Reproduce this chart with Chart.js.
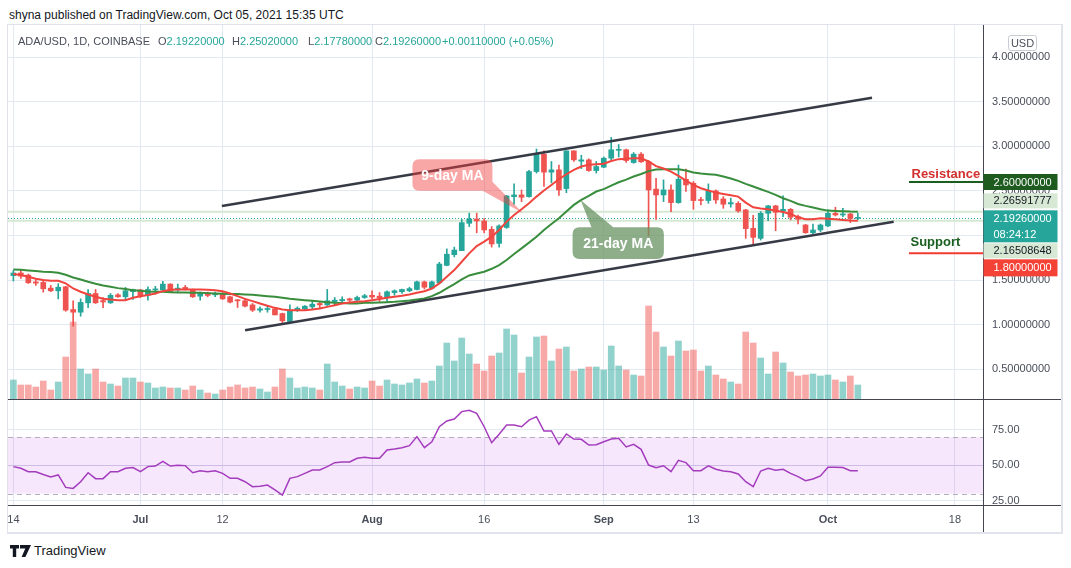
<!DOCTYPE html>
<html>
<head>
<meta charset="utf-8">
<script src="https://cdn.jsdelivr.net/npm/chart.js@4.4.0/dist/chart.umd.min.js"></script>
<style>
  body { margin: 0; width: 1071px; height: 568px; overflow: hidden; background: #fff; position: relative;
         font-family: "Liberation Sans", Arial, sans-serif; color: #131722; }
  #title { position: absolute; left: 9px; top: 8px; font-size: 12px; line-height: 14px; color: #131722; white-space: nowrap; }
  #frame { position: absolute; left: 7px; top: 24px; width: 1053px; height: 507px; border: 1px solid #e0e3eb; border-right-width: 2px; border-bottom-width: 2px; }
  canvas { position: absolute; left: 8px; }
  #price { top: 25px; }
  #rsi { top: 400px; }
  .lg { position: absolute; top: 35px; font-size: 11px; line-height: 13px; color: #4a4e5a; white-space: nowrap; }
  .lg b { font-weight: normal; color: #26a69a; }
  #usd { position: absolute; left: 1008px; top: 35px; width: 27px; height: 14px; border: 1px solid #c9cdd6; border-radius: 3px;
         font-size: 11px; line-height: 14px; text-align: center; color: #4a4e5a; background: #fff; }
  #logo { position: absolute; left: 10px; top: 543px; display: flex; align-items: center; gap: 3px; font-size: 13px; color: #131722; }
</style>
</head>
<body>
<div id="title">shyna published on TradingView.com, Oct 05, 2021 15:35 UTC</div>
<div id="frame"></div>
<canvas id="price" width="1053" height="375"></canvas>
<canvas id="rsi" width="1053" height="132"></canvas>
<div class="lg" style="left:18px">ADA/USD, 1D, COINBASE</div>
<div class="lg" style="left:158px">O<b>2.19220000</b></div>
<div class="lg" style="left:232px">H<b>2.25020000</b></div>
<div class="lg" style="left:308px">L<b>2.17780000</b></div>
<div class="lg" style="left:375px">C<b>2.19260000</b></div>
<div class="lg" style="left:442px"><b>+0.00110000 (+0.05%)</b></div>
<div id="usd">USD</div>
<div id="logo">
  <svg width="21" height="12" viewBox="0 0 21 12"><path d="M0 0h9v3.6H6.2V12H2.8V3.6H0z M10 0h11l-5.6 12h-3.8l3.7-8.4H10z" fill="#131722"/></svg>
  <span>TradingView</span>
</div>
<script>
  // ── Data (daily, Jun 14 → Oct 5 2021, index 0 = Jun 14) ──────────
  const OPEN = [1.55,1.58,1.556,1.48,1.474,1.41,1.38,1.425,1.17,1.14,
    1.245,1.35,1.27,1.245,1.335,1.313,1.37,1.39,1.33,1.39,
    1.39,1.455,1.39,1.418,1.395,1.32,1.357,1.335,1.343,1.313,
    1.275,1.268,1.222,1.163,1.17,1.178,1.125,1.035,1.163,1.178,
    1.2,1.238,1.222,1.26,1.268,1.29,1.275,1.305,1.33,1.32,
    1.305,1.36,1.37,1.38,1.395,1.48,1.41,1.47,1.665,1.785,
    1.83,2.137,2.185,2.163,2.069,1.912,2.09,2.436,2.455,2.436,
    2.717,2.912,2.71,2.736,2.526,2.949,2.833,2.848,2.728,2.766,
    2.867,2.955,2.961,2.818,2.912,2.826,2.52,2.455,2.511,2.369,
    2.631,2.586,2.399,2.392,2.5,2.41,2.354,2.361,2.287,2.08,
    1.968,2.249,2.332,2.275,2.294,2.212,2.118,2.032,2.062,2.107,
    2.249,2.23,2.242,2.1922];
  const HIGH = [1.61,1.61,1.567,1.507,1.5,1.44,1.46,1.43,1.267,1.29,
    1.395,1.395,1.305,1.35,1.35,1.418,1.4,1.395,1.425,1.43,
    1.485,1.46,1.455,1.44,1.4,1.365,1.365,1.365,1.365,1.32,
    1.283,1.29,1.238,1.2,1.208,1.193,1.13,1.222,1.2,1.215,
    1.268,1.253,1.395,1.305,1.313,1.298,1.32,1.34,1.38,1.36,
    1.38,1.39,1.4,1.42,1.49,1.49,1.49,1.7,1.85,1.87,
    2.18,2.25,2.25,2.19,2.1,2.12,2.45,2.58,2.51,2.73,
    2.97,2.95,2.83,2.79,2.95,2.95,2.9,2.86,2.83,2.88,
    3.1,3.02,2.97,2.93,2.93,2.84,2.64,2.624,2.567,2.79,
    2.744,2.605,2.429,2.579,2.511,2.436,2.418,2.38,2.294,2.227,
    2.268,2.339,2.339,2.444,2.302,2.23,2.125,2.129,2.129,2.287,
    2.317,2.305,2.249,2.2502];
  const LOW = [1.49,1.52,1.463,1.44,1.365,1.37,1.29,1.15,0.983,1.095,
    1.19,1.238,1.19,1.238,1.305,1.283,1.283,1.305,1.275,1.343,
    1.37,1.37,1.373,1.39,1.305,1.275,1.313,1.313,1.283,1.245,
    1.193,1.2,1.148,1.14,1.14,1.11,1.02,1.03,1.148,1.163,
    1.178,1.178,1.215,1.215,1.245,1.26,1.253,1.295,1.29,1.26,
    1.26,1.33,1.35,1.37,1.39,1.4,1.4,1.46,1.66,1.76,
    1.83,2.1,2.03,2.03,1.87,1.87,2.08,2.35,2.38,2.43,
    2.7,2.55,2.59,2.45,2.48,2.83,2.75,2.72,2.7,2.76,
    2.85,2.88,2.82,2.81,2.82,1.995,2.18,2.38,2.268,2.361,
    2.493,2.294,2.343,2.361,2.361,2.305,2.317,2.26,1.968,1.893,
    1.949,2.167,2.054,2.212,2.174,2.13,2.024,2.006,2.043,2.099,
    2.219,2.212,2.144,2.1778];
  const CLOSE = [1.58,1.545,1.47,1.466,1.403,1.38,1.42,1.163,1.14,1.25,
    1.35,1.245,1.255,1.33,1.313,1.38,1.395,1.32,1.395,1.4,
    1.455,1.373,1.41,1.395,1.313,1.35,1.328,1.35,1.29,1.253,
    1.268,1.208,1.163,1.178,1.178,1.11,1.043,1.163,1.185,1.208,
    1.23,1.222,1.268,1.275,1.283,1.275,1.305,1.325,1.31,1.3,
    1.369,1.38,1.395,1.405,1.481,1.42,1.48,1.68,1.79,1.837,
    2.144,2.185,2.163,2.062,1.905,2.107,2.444,2.455,2.429,2.717,
    2.912,2.71,2.736,2.511,2.949,2.848,2.848,2.728,2.773,2.867,
    2.961,2.961,2.84,2.912,2.826,2.511,2.455,2.511,2.369,2.631,
    2.567,2.392,2.392,2.5,2.399,2.35,2.369,2.275,2.077,1.979,
    2.249,2.332,2.26,2.294,2.204,2.182,2.032,2.062,2.118,2.249,
    2.23,2.242,2.1915,2.1926];
  // volume, millions ADA
  const VOLUME = [76,56,56,48,72,36,68,168,308,120,
    100,120,68,60,52,84,84,68,64,44,
    48,44,44,36,52,36,24,20,36,48,
    56,44,48,40,28,48,120,84,44,48,
    44,36,140,68,52,40,48,44,72,52,
    76,60,56,64,80,64,72,132,224,152,
    244,180,140,112,172,184,280,256,104,168,
    248,252,152,200,208,112,120,128,128,116,
    212,132,116,96,92,372,268,208,172,232,
    192,196,112,132,96,80,68,60,268,224,
    164,100,188,144,108,92,96,100,92,96,
    76,68,92,56];
  const MA9 = [1.568,1.556,1.537,1.515,1.5,1.492,1.492,1.463,1.406,1.369,
    1.339,1.313,1.29,1.283,1.275,1.275,1.302,1.32,1.332,1.35,
    1.376,1.391,1.395,1.395,1.395,1.395,1.391,1.387,1.376,1.35,
    1.32,1.29,1.264,1.238,1.212,1.189,1.17,1.163,1.163,1.163,
    1.17,1.182,1.2,1.219,1.238,1.249,1.257,1.264,1.275,1.287,
    1.302,1.313,1.324,1.339,1.358,1.376,1.406,1.463,1.537,1.612,
    1.706,1.8,1.882,1.931,1.987,2.062,2.156,2.23,2.294,2.361,
    2.436,2.504,2.567,2.631,2.687,2.736,2.773,2.792,2.8,2.805,
    2.835,2.856,2.86,2.865,2.865,2.83,2.777,2.751,2.717,2.669,
    2.616,2.567,2.53,2.504,2.481,2.466,2.451,2.436,2.369,2.317,
    2.302,2.294,2.279,2.264,2.242,2.204,2.182,2.182,2.193,2.189,
    2.182,2.174,2.167,2.165];
  const MA21 = [1.62,1.616,1.609,1.601,1.594,1.59,1.582,1.56,1.53,1.507,
    1.481,1.459,1.44,1.425,1.41,1.399,1.387,1.38,1.373,1.369,
    1.369,1.365,1.361,1.361,1.358,1.358,1.354,1.35,1.347,1.343,
    1.343,1.339,1.335,1.328,1.32,1.313,1.302,1.29,1.283,1.275,
    1.268,1.26,1.253,1.245,1.242,1.238,1.238,1.245,1.245,1.249,
    1.253,1.257,1.264,1.272,1.283,1.294,1.32,1.358,1.406,1.455,
    1.507,1.552,1.575,1.594,1.627,1.668,1.725,1.792,1.856,1.92,
    1.987,2.062,2.129,2.193,2.268,2.343,2.399,2.444,2.493,2.52,
    2.56,2.597,2.627,2.661,2.689,2.722,2.74,2.743,2.743,2.743,
    2.728,2.706,2.695,2.687,2.68,2.661,2.639,2.612,2.579,2.549,
    2.519,2.489,2.455,2.418,2.388,2.354,2.332,2.313,2.294,2.279,
    2.275,2.272,2.268,2.266];
  const RSI = [49.1,47.9,45.5,45.5,43.5,41.8,43.2,34.4,33.7,38.4,
    44.8,40.6,40.6,45.5,45.5,47.9,48.4,45.5,49.1,49.5,
    52.8,49.5,50,49.8,44.8,46.2,45.5,46.2,44.3,40.8,
    40.8,38.4,34.9,35.3,36.1,32.6,29,40.8,42,44.3,
    46.7,46.7,49.1,51.9,52.4,52.4,55,55.7,55,55,
    60.8,61.5,62.5,63.9,70.3,62.5,66.7,77.3,81.4,82.8,
    88,88.9,86.8,77.3,66,72,78.5,78.5,77.3,82,
    84.4,74.3,74.3,64.9,72.2,68.6,68.4,64.4,64.6,66.7,
    68.6,69.1,63,64.9,61.3,50.2,48.3,49.7,45.5,53.5,
    51.9,46.2,46.2,49.7,47.2,46,45.5,43.9,38.4,34.9,
    46,47.9,46.5,47.2,44.3,42,39.2,40.3,42.5,48.6,
    48.6,48.4,46.2,46.2];

  const X_TICKS = [0, 17, 28, 48, 63, 79, 91, 109, 126];
  const X_LABELS = ["14", "Jul", "12", "Aug", "16", "Sep", "13", "Oct", "18"];
  const MONTHS = ["Jul", "Aug", "Sep", "Oct"];
  const PRICE_TICKS = [0.5, 1, 1.5, 2, 2.5, 3, 3.5, 4];
  const RSI_TICKS = [25, 50, 75];

  // drawn trend lines (day index, price)
  const UPPER_TREND = [{ x: 27.9, y: 2.331 }, { x: 114.9, y: 3.545 }];
  const LOWER_TREND = [{ x: 31.0, y: 0.938 }, { x: 117.8, y: 2.155 }];

  const RESISTANCE = 2.6;
  const SUPPORT = 1.8;
  const LAST_PRICE = 2.1926;
  const MA21_LAST = 2.26591777;
  const MA9_LAST = 2.16508648;
  const COUNTDOWN = "08:24:12";
  const TIP_MA9 = { x: 68.2, y: 2.249 };
  const TIP_MA21 = { x: 75.9, y: 2.398 };

  // ── Design tokens ──────────────────
  const FONT = '"Liberation Sans", Arial, sans-serif';
  const C = {
    up: "#26a69a", down: "#ef5350",
    upVol: "rgba(38,166,154,0.5)", downVol: "rgba(239,83,80,0.5)",
    ma9: "#f0453f", ma21: "#388e3c", trend: "#363a45",
    grid: "#e3e9f0", axis: "#434651", tick: "#4a4e5a",
    lineGreen: "#d5e8d2", rsi: "#a43cbd"
  };

  const DAYS = CLOSE.map((_, i) => i);
  const up = DAYS.map(i => CLOSE[i] >= OPEN[i]);
  const X_MIN = -0.72, X_MAX = 129.75;

  function xScale(showLabels) {
    return {
      type: "linear", min: X_MIN, max: X_MAX, offset: false,
      grid: { color: C.grid, offset: false, drawTicks: false },
      border: { color: C.axis, width: 1 },
      afterBuildTicks: s => { s.ticks = X_TICKS.map(v => ({ value: v })); },
      ticks: {
        display: showLabels, autoSkip: false, maxRotation: 0, padding: 8, color: C.tick,
        callback: (v, i) => X_LABELS[i],
        font: ctx => ({ family: FONT, size: 11, weight: MONTHS.includes(X_LABELS[ctx.index]) ? "bold" : "normal" })
      },
      afterFit: s => { s.height = showLabels ? 27 : 1; s.paddingLeft = 0; s.paddingRight = 0; }
    };
  }

  function rightAxis(min, max, ticks, digits) {
    return {
      position: "right", min, max,
      afterBuildTicks: s => { s.ticks = ticks.map(v => ({ value: v })); },
      ticks: { autoSkip: false, padding: 9, color: C.tick, font: { family: FONT, size: 11 }, callback: v => v.toFixed(digits) },
      grid: { color: C.grid, drawTicks: false },
      border: { color: C.axis, width: 1 },
      afterFit: s => { s.width = 78; s.paddingTop = 0; s.paddingBottom = 0; }
    };
  }

  function hline(ctx, x1, x2, y, color, width, dash) {
    ctx.save();
    ctx.strokeStyle = color;
    ctx.lineWidth = width;
    ctx.setLineDash(dash || []);
    ctx.beginPath();
    ctx.moveTo(x1, y);
    ctx.lineTo(x2, y);
    ctx.stroke();
    ctx.restore();
  }

  function roundRectPath(ctx, x, y, w, h, r) {
    ctx.moveTo(x + r, y);
    ctx.lineTo(x + w - r, y);
    ctx.quadraticCurveTo(x + w, y, x + w, y + r);
    ctx.lineTo(x + w, y + h - r);
    ctx.quadraticCurveTo(x + w, y + h, x + w - r, y + h);
    ctx.lineTo(x + r, y + h);
    ctx.quadraticCurveTo(x, y + h, x, y + h - r);
    ctx.lineTo(x, y + r);
    ctx.quadraticCurveTo(x, y, x + r, y);
    ctx.closePath();
  }

  // box: [dx, dy, w, h] from tip; base: two points relative to tip
  function callout(chart, tip, box, base, fill, text) {
    const { ctx, scales } = chart;
    const tx = scales.x.getPixelForValue(tip.x);
    const ty = scales.y.getPixelForValue(tip.y);
    ctx.save();
    ctx.fillStyle = fill;
    ctx.beginPath();
    roundRectPath(ctx, tx + box[0], ty + box[1], box[2], box[3], 7);
    ctx.moveTo(tx + base[0][0], ty + base[0][1]);
    ctx.lineTo(tx, ty);
    ctx.lineTo(tx + base[1][0], ty + base[1][1]);
    ctx.closePath();
    ctx.fill();
    ctx.fillStyle = "#ffffff";
    ctx.font = "bold 14px " + FONT;
    ctx.textAlign = "center";
    ctx.textBaseline = "middle";
    ctx.fillText(text, tx + box[0] + box[2] / 2, ty + box[1] + box[3] / 2 + 1);
    ctx.restore();
  }

  function tag(ctx, x, top, w, h, bg, fg, lines) {
    ctx.fillStyle = bg;
    ctx.fillRect(x, top, w, h);
    ctx.fillStyle = fg;
    ctx.font = "11px " + FONT;
    ctx.textAlign = "left";
    ctx.textBaseline = "middle";
    lines.forEach((t, k) => ctx.fillText(t, x + 10, top + (k + 0.5) * (h / lines.length) + 0.5));
  }

  const priceOverlay = {
    id: "priceOverlay",
    beforeDatasetsDraw(chart) {
      const { ctx, chartArea: a, scales: { y } } = chart;
      hline(ctx, a.left, a.right, y.getPixelForValue(MA21_LAST), C.lineGreen, 2);
      hline(ctx, a.left, a.right, y.getPixelForValue(MA9_LAST), C.lineGreen, 2);
      hline(ctx, a.left, a.right, Math.round(y.getPixelForValue(LAST_PRICE)) + 0.5, C.up, 1, [1, 2]);
    },
    afterDatasetsDraw(chart) {
      const { ctx, chartArea: a, scales: { y } } = chart;
      callout(chart, TIP_MA9, [-110.6, -54, 80, 31.4], [[-34, -35], [-43, -24]], "rgba(242,60,62,0.46)", "9-day MA");
      callout(chart, TIP_MA21, [-8, 27.3, 91.3, 31.7], [[12, 30], [36, 30]], "rgba(105,148,100,0.76)", "21-day MA");

      const yr = y.getPixelForValue(RESISTANCE);
      const ys = y.getPixelForValue(SUPPORT);
      ctx.save();
      hline(ctx, a.right - 74, a.right, yr, "#1b5e20", 2);
      hline(ctx, a.right - 74, a.right, ys, "#f23a2f", 2);
      ctx.font = "bold 13px " + FONT;
      ctx.textAlign = "left";
      ctx.textBaseline = "middle";
      ctx.fillStyle = "#d32f2f";
      ctx.fillText("Resistance", a.right - 71.5, yr - 7.7);
      ctx.fillStyle = "#1b5e20";
      ctx.fillText("Support", a.right - 72.5, ys - 11);
      ctx.restore();
    },
    afterDraw(chart) {
      const { ctx, chartArea: a, scales: { y }, width } = chart;
      hline(ctx, a.right, width, a.bottom + 0.5, C.axis, 1);
      const x = a.right + 0.5, w = 74;
      const yMain = y.getPixelForValue(LAST_PRICE);
      const mainTop = yMain - 8;
      ctx.save();
      tag(ctx, x, y.getPixelForValue(RESISTANCE) - 8, w, 16, "#1e5b1f", "#ffffff", [RESISTANCE.toFixed(8)]);
      tag(ctx, x, mainTop - 17, w, 15, "#d7e9d4", "#131722", [MA21_LAST.toFixed(8)]);
      tag(ctx, x, mainTop, w, 32, C.up, "#ffffff", [LAST_PRICE.toFixed(8), COUNTDOWN]);
      tag(ctx, x, mainTop + 33, w, 15, "#d7e9d4", "#131722", [MA9_LAST.toFixed(8)]);
      tag(ctx, x, mainTop + 49, w, 17, "#f44336", "#ffffff", [SUPPORT.toFixed(8)]);
      ctx.restore();
    }
  };

  const rsiOverlay = {
    id: "rsiOverlay",
    beforeDatasetsDraw(chart) {
      const { ctx, chartArea: a, scales: { y } } = chart;
      const y70 = y.getPixelForValue(70), y30 = y.getPixelForValue(30);
      ctx.save();
      ctx.fillStyle = "rgba(170,40,240,0.11)";
      ctx.fillRect(a.left, y70, a.right - a.left, y30 - y70);
      ctx.restore();
      hline(ctx, a.left, a.right, Math.round(y.getPixelForValue(50)) + 0.5, "rgba(160,120,210,0.25)", 1);
      hline(ctx, a.left, a.right, Math.round(y70) + 0.5, "#b3adbb", 1, [5, 4]);
      hline(ctx, a.left, a.right, Math.round(y30) + 0.5, "#b3adbb", 1, [5, 4]);
    },
    afterDraw(chart) {
      const { ctx, chartArea: a, width, height } = chart;
      hline(ctx, a.right, width, a.bottom + 0.5, C.axis, 1);
      ctx.save();
      ctx.strokeStyle = C.axis;
      ctx.lineWidth = 1;
      ctx.beginPath();
      ctx.moveTo(a.right + 0.5, a.bottom);
      ctx.lineTo(a.right + 0.5, height);
      ctx.stroke();
      ctx.restore();
    }
  };

  const common = {
    responsive: false,
    animation: false,
    events: [],
    layout: { padding: 0 },
    plugins: { legend: { display: false }, tooltip: { enabled: false } }
  };

  new Chart(document.getElementById("price"), {
    type: "bar",
    data: {
      datasets: [
        { type: "line", label: "Upper trend", data: UPPER_TREND, borderColor: C.trend, borderWidth: 2.5, pointRadius: 0, order: 0 },
        { type: "line", label: "Lower trend", data: LOWER_TREND, borderColor: C.trend, borderWidth: 2.5, pointRadius: 0, order: 0 },
        { type: "line", label: "9-day MA", data: DAYS.map(i => ({ x: i, y: MA9[i] })), borderColor: C.ma9, borderWidth: 2, pointRadius: 0, order: 1 },
        { type: "line", label: "21-day MA", data: DAYS.map(i => ({ x: i, y: MA21[i] })), borderColor: C.ma21, borderWidth: 2, pointRadius: 0, order: 1 },
        { label: "Body", data: DAYS.map(i => ({ x: i, y: [OPEN[i], CLOSE[i]] })), backgroundColor: DAYS.map(i => up[i] ? C.up : C.down),
          barThickness: 5, minBarLength: 1, grouped: false, order: 2 },
        { label: "Wick", data: DAYS.map(i => ({ x: i, y: [LOW[i], HIGH[i]] })), backgroundColor: DAYS.map(i => up[i] ? C.up : C.down),
          barThickness: 1, grouped: false, order: 3 },
        { label: "Volume", yAxisID: "vol", data: DAYS.map(i => ({ x: i, y: VOLUME[i] })), backgroundColor: DAYS.map(i => up[i] ? C.upVol : C.downVol),
          barThickness: 6, grouped: false, order: 4 }
      ]
    },
    options: {
      ...common,
      scales: {
        x: xScale(false),
        y: rightAxis(0.167, 4.36, PRICE_TICKS, 8),
        vol: { display: false, min: 0, max: 1496 }
      }
    },
    plugins: [priceOverlay]
  });

  new Chart(document.getElementById("rsi"), {
    type: "line",
    data: {
      datasets: [
        { label: "RSI", data: DAYS.map(i => ({ x: i, y: RSI[i] })), borderColor: C.rsi, borderWidth: 1.5, pointRadius: 0 }
      ]
    },
    options: {
      ...common,
      scales: {
        x: xScale(true),
        y: rightAxis(21.96, 96.2, RSI_TICKS, 2)
      }
    },
    plugins: [rsiOverlay]
  });
</script>
</body>
</html>
